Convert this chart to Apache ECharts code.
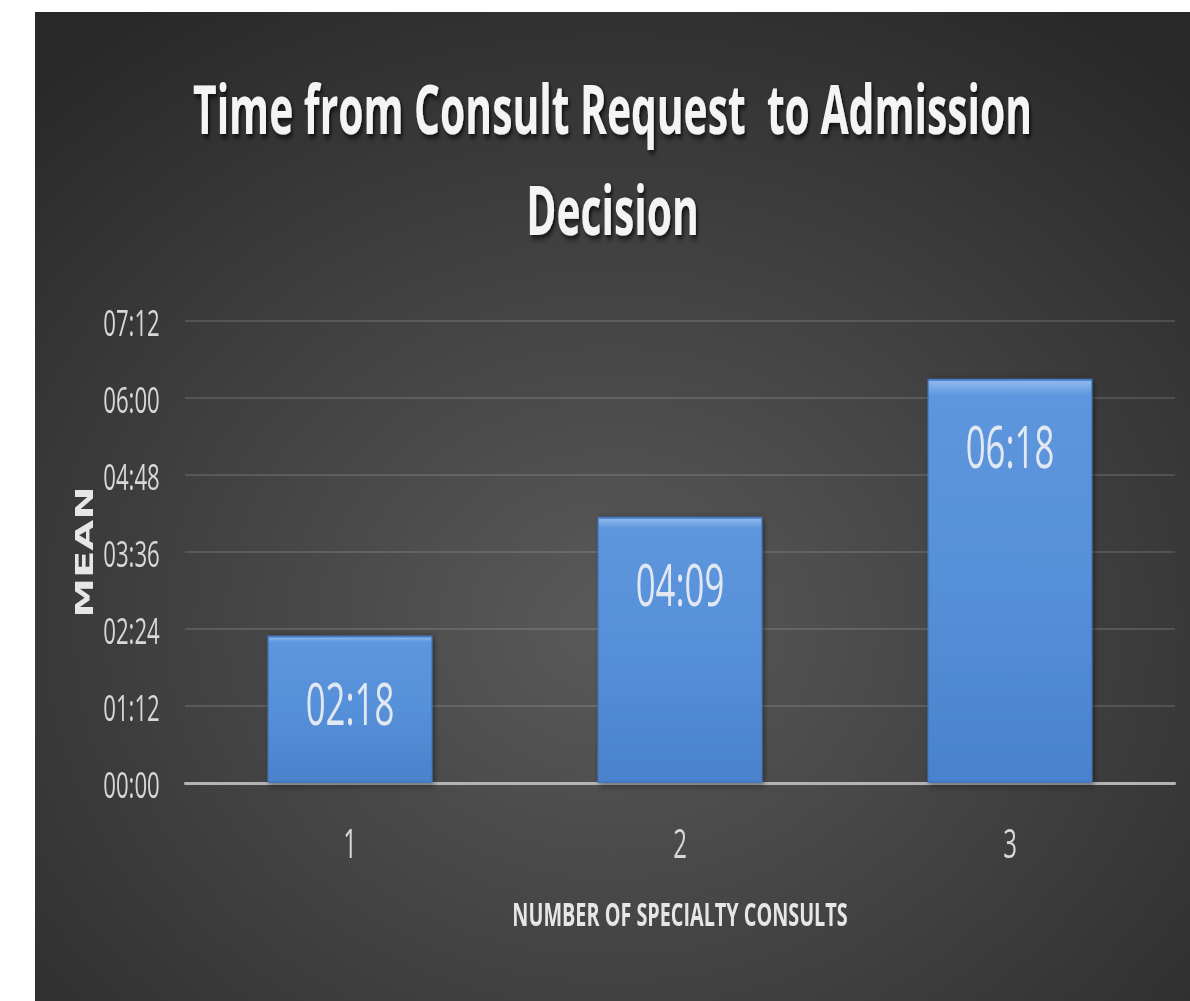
<!DOCTYPE html>
<html>
<head>
<meta charset="utf-8">
<script src="https://cdn.jsdelivr.net/npm/echarts@6/dist/echarts.min.js"></script>
<style>
html,body{margin:0;padding:0;background:#fff;width:1190px;height:1001px;overflow:hidden;}
#c{position:absolute;left:35px;top:12px;width:1925px;height:989px;transform:scaleX(0.6);transform-origin:0 0;}
</style>
</head>
<body>
<div id="c"></div>
<script>
const categories = ['1', '2', '3'];
const meanMinutes = [138, 249, 378];   // 02:18, 04:09, 06:18
const yTickMinutes = [0, 72, 144, 216, 288, 360, 432];

function fmt(m) {
  const h = Math.floor(m / 60), mm = Math.round(m % 60);
  return String(h).padStart(2, '0') + ':' + String(mm).padStart(2, '0');
}

const chart = echarts.init(document.getElementById('c'), null, {renderer: 'svg'});
const font = '"Open Sans", "Noto Sans", sans-serif';
chart.setOption({
  backgroundColor: {
    type: 'radial', x: 0.5, y: 0.62, r: 0.75,
    colorStops: [{offset: 0, color: '#5a5a5a'}, {offset: 1, color: '#282828'}]
  },
  title: {
    text: 'Time from Consult Request  to Admission\nDecision',
    left: 'center',
    top: 40,
    textStyle: {
      color: '#f4f4f4', fontSize: 68, fontWeight: 'bold', lineHeight: 101,
      fontFamily: '"Open Sans", "Noto Sans", sans-serif',
      textShadowColor: 'rgba(0,0,0,0.75)', textShadowBlur: 6, textShadowOffsetX: 3, textShadowOffsetY: 3
    }
  },
  grid: {left: 250, right: 25, top: 309, bottom: 218, containLabel: false},
  xAxis: {
    type: 'category',
    data: categories,
    name: 'NUMBER OF SPECIALTY CONSULTS',
    nameLocation: 'middle',
    nameGap: 114,
    nameTextStyle: {color: '#e6e6e6', fontSize: 33, fontWeight: 'bold', fontFamily: font},
    axisLine: {lineStyle: {color: '#b4b4b4', width: 3}},
    axisTick: {show: false},
    axisLabel: {color: '#d8d8d8', fontSize: 40, margin: 40, fontFamily: font}
  },
  yAxis: {
    type: 'value',
    min: 0, max: 432, interval: 72,
    name: 'MEAN',
    nameLocation: 'middle',
    nameGap: 148,
    nameRotate: 90,
    nameTextStyle: {color: '#e6e6e6', fontSize: 40, fontWeight: 'bold', fontFamily: '"DejaVu Sans", sans-serif'},
    axisLine: {show: false},
    axisTick: {show: false},
    splitLine: {lineStyle: {color: 'rgba(255,255,255,0.13)', width: 2}},
    axisLabel: {
      color: '#d8d8d8', fontSize: 37, margin: 42, fontFamily: font,
      formatter: v => fmt(v)
    }
  },
  series: [{
    type: 'bar',
    data: meanMinutes,
    barWidth: '50%',
    itemStyle: {
      color: {
        type: 'linear', x: 0, y: 0, x2: 0, y2: 1,
        colorStops: [
          {offset: 0, color: '#93bbee'},
          {offset: 0.04, color: '#5e96dd'},
          {offset: 0.5, color: '#5690d8'},
          {offset: 1, color: '#4a82cc'}
        ]
      },
      borderColor: '#4479c2', borderWidth: 2,
      shadowColor: 'rgba(0,0,0,0.45)', shadowBlur: 8, shadowOffsetX: 3, shadowOffsetY: 2
    },
    label: {
      show: true, position: 'insideTop', distance: 38,
      color: '#e2e8f2', fontSize: 58, fontFamily: font,
      formatter: p => fmt(p.value)
    }
  }]
});
</script>
</body>
</html>
